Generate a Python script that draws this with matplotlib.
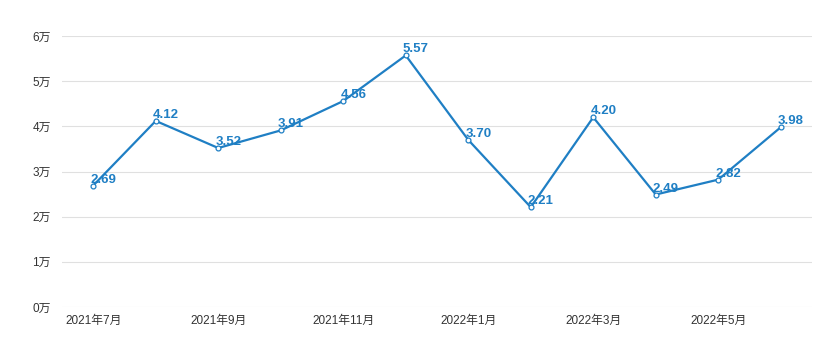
import matplotlib.pyplot as plt

plt.rcParams['font.family'] = ['Liberation Sans', 'Noto Sans CJK SC', 'DejaVu Sans']

months = ['2021年7月', '2021年8月', '2021年9月', '2021年10月', '2021年11月', '2021年12月',
          '2022年1月', '2022年2月', '2022年3月', '2022年4月', '2022年5月', '2022年6月']
values = [2.69, 4.12, 3.52, 3.91, 4.56, 5.57, 3.70, 2.21, 4.20, 2.49, 2.82, 3.98]
yticks = [0, 1, 2, 3, 4, 5, 6]

color = '#1f7fc4'
fig = plt.figure(figsize=(8.4, 3.61), dpi=100)
ax = fig.add_axes([62 / 840, 54 / 361, 750 / 840, 271 / 361])

x = list(range(len(months)))
ax.plot(x, values, color=color, lw=1.6, marker='o', ms=3.5,
        markerfacecolor='white', markeredgecolor=color, markeredgewidth=0.9, zorder=3)
for xi, v in zip(x, values):
    ax.annotate(f'{v:.2f}', (xi, v), xytext=(-2, 0), textcoords='offset points',
                ha='left', va='bottom', color=color, fontsize=9.5, fontweight='bold',
                zorder=4)

ax.set_xlim(-0.5, len(months) - 0.5)
ax.set_ylim(0, 6)
ax.set_yticks(yticks)
ax.set_yticklabels([f'{t}万' for t in yticks])
ax.set_xticks(x[::2])
ax.set_xticklabels(months[::2])
ax.grid(axis='y', color='#e0e0e0', lw=0.8)
ax.set_axisbelow(True)
for s in ax.spines.values():
    s.set_visible(False)
ax.tick_params(length=0, labelsize=8.5, colors='#333333')
ax.tick_params(axis='y', pad=8)
ax.tick_params(axis='x', pad=6)

fig.savefig('out.png')
